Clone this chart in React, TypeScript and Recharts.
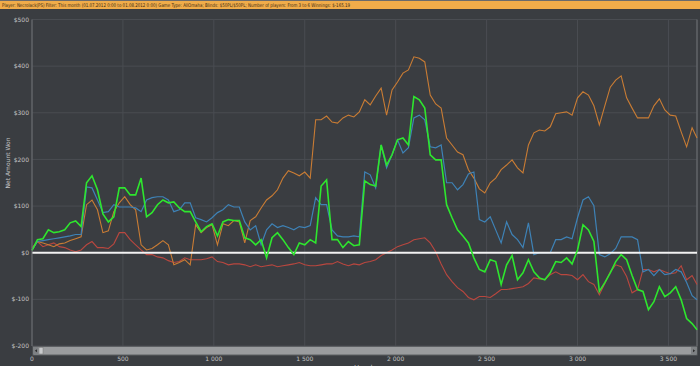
import React from 'react';
import { LineChart, Line, XAxis, YAxis, CartesianGrid, ReferenceLine } from 'recharts';

const hands = [0,30,60,90,120,150,180,210,240,270,300,330,360,390,420,450,480,510,540,570,600,630,660,690,720,750,780,810,840,870,900,930,960,990,1020,1050,1080,1110,1140,1170,1200,1230,1260,1290,1320,1350,1380,1410,1440,1470,1500,1530,1560,1590,1620,1650,1680,1710,1740,1770,1800,1830,1860,1890,1920,1950,1980,2010,2040,2070,2100,2130,2160,2190,2220,2250,2280,2310,2340,2370,2400,2430,2460,2490,2520,2550,2580,2610,2640,2670,2700,2730,2760,2790,2820,2850,2880,2910,2940,2970,3000,3030,3060,3090,3120,3150,3180,3210,3240,3270,3300,3330,3360,3390,3420,3450,3480,3510,3540,3570,3600,3630,3657];

const greenWon = [5,28,30,49,43,45,49,64,68,56,150,165,135,83,66,77,139,139,124,124,160,77,86,103,113,107,109,96,88,88,66,45,56,62,36,66,71,69,69,32,28,17,28,-11,32,43,28,11,-4,21,17,28,21,143,156,28,28,11,24,15,17,154,146,143,231,188,210,242,246,231,335,328,310,210,199,199,103,75,49,36,21,-11,-36,-41,-15,-19,-68,-26,-6,-58,-43,-15,-41,-54,-58,-43,-19,-21,-11,-24,6,60,49,24,-83,-64,-43,-19,-4,-15,-49,-79,-83,-122,-105,-73,-94,-86,-73,-101,-141,-152,-165];

const blueWon = [6,24,26,28,30,32,34,36,39,39,141,139,113,86,88,103,98,98,98,96,88,113,118,120,120,113,88,92,107,107,75,71,66,75,86,92,103,98,98,66,49,58,17,49,62,54,58,54,49,56,54,58,118,103,103,49,36,34,34,36,34,173,167,139,231,182,210,242,214,225,289,295,285,227,225,231,150,150,135,146,169,173,71,66,77,49,21,66,39,28,11,64,-4,0,0,0,28,28,34,30,75,113,120,101,-4,-9,-2,9,34,34,34,28,-41,-36,-49,-36,-47,-45,-36,-41,-64,-92,-101];

const orangeWon = [6,24,21,17,13,19,21,26,30,34,103,113,92,43,47,88,107,120,103,92,17,6,9,17,26,17,-26,-21,-15,-26,60,43,54,60,17,62,58,69,66,21,69,77,96,113,122,135,160,176,171,165,173,160,285,285,293,280,278,289,295,291,302,328,317,336,353,295,349,366,385,392,420,417,409,338,319,310,246,231,216,210,178,160,137,128,150,160,178,188,199,182,171,231,257,263,261,270,298,300,302,295,332,345,338,315,274,315,355,370,379,332,310,289,289,289,315,330,306,295,293,259,227,268,246];

const redWon = [11,24,13,17,21,13,11,6,2,6,17,24,11,11,9,19,43,43,28,17,6,-4,-4,-9,-11,-17,-21,-19,-11,-15,-15,-15,-13,-9,-19,-21,-26,-24,-24,-26,-30,-26,-30,-28,-26,-30,-28,-26,-24,-21,-26,-28,-28,-26,-24,-24,-19,-24,-28,-24,-26,-21,-19,-15,-6,0,6,13,17,21,28,30,32,21,2,-24,-47,-62,-75,-83,-96,-101,-94,-94,-96,-88,-79,-79,-77,-75,-73,-66,-54,-56,-58,-47,-41,-47,-47,-49,-58,-47,-62,-68,-90,-66,-41,-26,-30,-51,-86,-79,-36,-36,-41,-36,-41,-45,-43,-28,-58,-49,-68];

const xTicks = [0,500,1000,1500,2000,2500,3000,3500];
const yTicks = [-200,-100,0,100,200,300,400,500];
const titleText = 'Player: Necrolack(PS) Filter: This month (01.07.2012 0:00 to 01.08.2012 0:00) Game Type: AllOmaha; Blinds: $50PL/$50PL; Number of players: From 3 to 6 Winnings: $-165.19';

const data = hands.map((h, i) => ({
  h,
  green: greenWon[i],
  blue: blueWon[i],
  orange: orangeWon[i],
  red: redWon[i],
}));

const fmtX = (v: number) => {
  if (v >= 1000) {
    const t = Math.floor(v / 1000);
    const r = String(v % 1000).padStart(3, '0');
    return `${t} ${r}`;
  }
  return String(v);
};
const fmtY = (v: number) => `$${v}`;

const FONT = '"DejaVu Sans", sans-serif';
const BG = '#3a3d41';

export default function App() {
  return (
    <div style={{ position: 'absolute', left: 0, top: 0, width: 700, height: 366, background: BG, overflow: 'hidden', fontFamily: FONT }}>
      <svg width={700} height={10} style={{ position: 'absolute', left: 0, top: 0 }}>
        <rect x={0} y={0} width={700} height={1} fill="#6b6b6b" />
        <rect x={0} y={1} width={700} height={8} fill="#f0ac4a" />
        <text x={2} y={7.2} fontSize={5} fontFamily={FONT} fill="#3b2a12" textLength={348} lengthAdjust="spacingAndGlyphs">{titleText}</text>
      </svg>
      <div style={{ position: 'absolute', left: 0, top: 0 }}>
        <LineChart width={700} height={366} data={data} margin={{ top: 19.5, right: 3, bottom: 0, left: 0 }}>
          <CartesianGrid stroke="#4a4d52" strokeWidth={1} />
          <XAxis
            dataKey="h"
            type="number"
            domain={[0, 3657]}
            ticks={xTicks}
            tickFormatter={fmtX}
            height={20}
            tickSize={0}
            tickMargin={11}
            axisLine={false}
            tick={{ fill: '#c4c4c4', fontSize: 6, fontFamily: FONT }}
            interval={0}
          />
          <YAxis
            type="number"
            domain={[-200, 500]}
            ticks={yTicks}
            tickFormatter={fmtY}
            width={32}
            tickSize={0}
            tickMargin={3}
            axisLine={{ stroke: '#6d7075' }}
            tick={{ fill: '#c4c4c4', fontSize: 6, fontFamily: FONT }}
            interval={0}
          />
          <ReferenceLine x={3657} stroke="#6d7075" />
          <Line dataKey="red" stroke="#b9473f" strokeWidth={1.1} dot={false} isAnimationActive={false} type="linear" />
          <Line dataKey="orange" stroke="#c97c34" strokeWidth={1.1} dot={false} isAnimationActive={false} type="linear" />
          <Line dataKey="blue" stroke="#3e82b6" strokeWidth={1.2} dot={false} isAnimationActive={false} type="linear" />
          <ReferenceLine y={0} stroke="#f2f2f2" strokeWidth={2} />
          <Line dataKey="green" stroke="#2ee62e" strokeWidth={1.6} dot={false} isAnimationActive={false} type="linear" />
        </LineChart>
      </div>
      <svg width={700} height={366} style={{ position: 'absolute', left: 0, top: 0, pointerEvents: 'none' }}>
        <text x={8} y={163} fontSize={6} fontFamily={FONT} fill="#c4c4c4" textAnchor="middle" transform="rotate(-90 8 163)" dominantBaseline="middle">Net Amount Won</text>
        <text x={365} y={370} fontSize={7} fontFamily={FONT} fill="#c4c4c4" textAnchor="middle">Hands</text>
        <rect x={33} y={346.5} width={664} height={8.5} fill="#9a9c9e" stroke="#5d6063" strokeWidth={1} />
        <rect x={33.5} y={347} width={5} height={7.5} fill="#7e8184" />
        <path d="M34.8 350.8 L37 349.3 L37 352.3 Z" fill="#2e2e2e" />
        <rect x={39} y={347.5} width={4} height={6.5} fill="#c9cbcd" stroke="#777" strokeWidth={0.5} />
        <rect x={691} y={347} width={5.5} height={7.5} fill="#7e8184" />
        <path d="M695.2 350.8 L693 349.3 L693 352.3 Z" fill="#2e2e2e" />
      </svg>
    </div>
  );
}
